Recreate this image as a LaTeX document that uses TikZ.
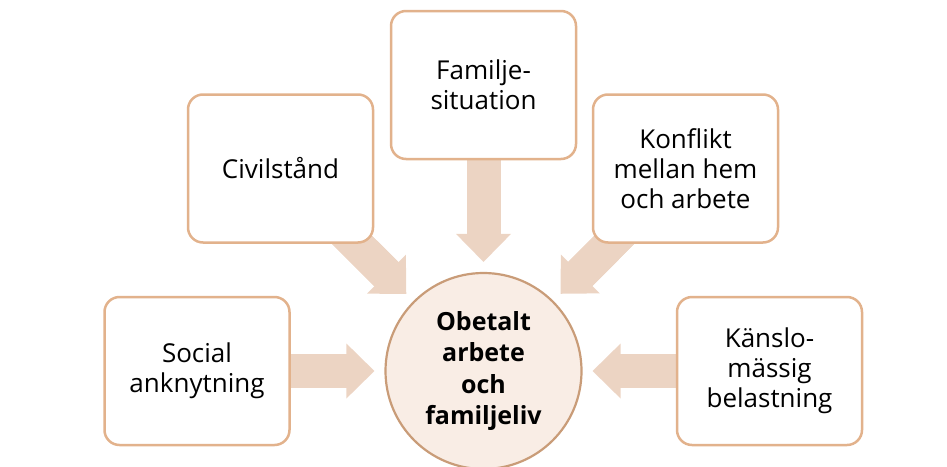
\documentclass[tikz,border=0pt]{standalone}
\usepackage{fontspec}
\setmainfont{Open Sans}
\usetikzlibrary{arrows.meta,backgrounds}
\definecolor{boxborder}{HTML}{E2B28C}
\definecolor{arrowfill}{HTML}{ECD4C3}
\definecolor{circfill}{HTML}{F9EDE5}
\definecolor{circborder}{HTML}{C99C78}
\tikzset{
  factor/.style={rectangle, rounded corners=15pt, draw=boxborder, line width=2.5pt, fill=white,
    minimum width=185pt, minimum height=148pt, align=center, inner sep=0pt,
    font=\fontsize{26}{30}\selectfont},
  central/.style={circle, draw=circborder, line width=2.2pt, fill=circfill, minimum size=196pt,
    align=center, inner sep=0pt, font=\fontsize{25}{31.5}\selectfont\bfseries},
  bigarrow/.style={draw=arrowfill, line width=34pt,
    -{Triangle[width=55pt,length=28pt,line width=0pt,fill=arrowfill]}, shorten >=10pt},
  seam/.style={draw=arrowfill, line width=34pt, shorten >=33pt}
}
\begin{document}
\begin{tikzpicture}[x=1pt,y=-1pt]
\useasboundingbox (0,0) rectangle (947,466);
\node[factor] (civ) at (280.5,168.5) {Civilstånd};
\node[factor] (fam) at (483.5,85) {Familje-\\situation};
\node[factor] (kon) at (685.5,168.5) {Konflikt\\mellan hem\\och arbete};
\node[factor] (soc) at (197,371) {Social\\anknytning};
\node[factor] (kan) at (769.5,371) {Känslo-\\mässig\\belastning};
\node[central] (circ) at (483.5,371) {Obetalt\\arbete\\och\\familjeliv};
\begin{pgfonlayer}{background}
\foreach \src in {civ,fam,kon,soc,kan}{
  \draw[bigarrow] (\src.center) -- (circ);
  \draw[seam] (\src.center) -- (circ);
}
\end{pgfonlayer}
\end{tikzpicture}
\end{document}
